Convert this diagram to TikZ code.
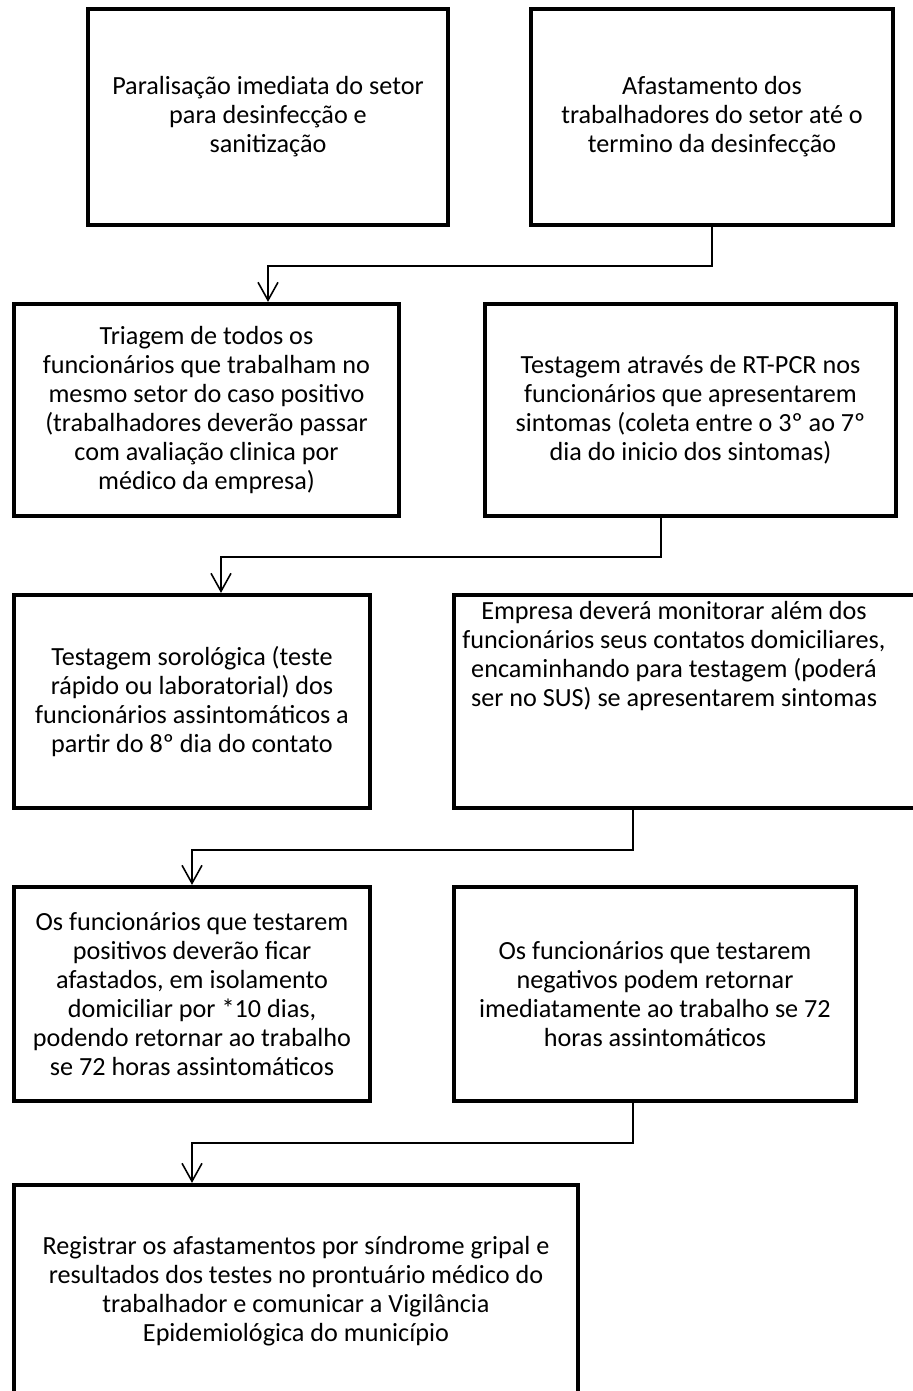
\documentclass[tikz,border=0pt]{standalone}
\usepackage{fontspec}
\setmainfont{Carlito}
\usetikzlibrary{arrows.meta}

\begin{document}
\begin{tikzpicture}[x=0.02cm,y=-0.02cm]
\tikzstyle{every node}+=[inner sep=0pt]
\tikzstyle{etapa}=[draw=black,line width=2.4pt,align=center,font=\fontsize{14.9}{16.5}\selectfont]
\tikzstyle{texto}=[align=center,font=\fontsize{14.9}{16.5}\selectfont]
\tikzstyle{fluxo}=[line width=0.9pt,-{Straight Barb[length=0.36cm,width=0.4cm]}]
\useasboundingbox (0,0) rectangle (912,1391);
\node [etapa,minimum width=7.2cm,minimum height=4.32cm] (b1) at (268,117) {Paralisação imediata do setor\\para desinfecção e\\sanitização};
\node [etapa,minimum width=7.24cm,minimum height=4.32cm] (b2) at (712,117) {Afastamento dos\\trabalhadores do setor até o\\termino da desinfecção};
\node [etapa,minimum width=7.7cm,minimum height=4.24cm] (b3) at (206.5,410) {Triagem de todos os\\funcionários que trabalham no\\mesmo setor do caso positivo\\(trabalhadores deverão passar\\com avaliação clinica por\\médico da empresa)};
\node [etapa,minimum width=8.22cm,minimum height=4.24cm] (b4) at (690.5,410) {Testagem através de RT-PCR nos\\funcionários que apresentarem\\sintomas (coleta entre o 3º ao 7º\\dia do inicio dos sintomas)};
\node [etapa,minimum width=7.12cm,minimum height=4.26cm] (b5) at (192,701.5) {Testagem sorológica (teste\\rápido ou laboratorial) dos\\funcionários assintomáticos a\\partir do 8º dia do contato};
\node [etapa,minimum width=9.38cm,minimum height=4.26cm] (b6) at (688.5,701.5) {};
\node [texto] (t6) at (674,656) {Empresa deverá monitorar além dos\\funcionários seus contatos domiciliares,\\encaminhando para testagem (poderá\\ser no SUS) se apresentarem sintomas};
\node [etapa,minimum width=7.12cm,minimum height=4.28cm] (b7) at (192,994) {Os funcionários que testarem\\positivos deverão ficar\\afastados, em isolamento\\domiciliar por *10 dias,\\podendo retornar ao trabalho\\se 72 horas assintomáticos};
\node [etapa,minimum width=8.04cm,minimum height=4.28cm] (b8) at (655,994) {Os funcionários que testarem\\negativos podem retornar\\imediatamente ao trabalho se 72\\horas assintomáticos};
\node [etapa,minimum width=11.28cm,minimum height=4.26cm] (b9) at (296,1291.5) {Registrar os afastamentos por síndrome gripal e\\resultados dos testes no prontuário médico do\\trabalhador e comunicar a Vigilância\\Epidemiológica do município};
\coordinate (c1) at (712,266);
\coordinate (d1) at (268,266);
\draw [fluxo] (b2.south) -- (c1) -- (d1) -- (d1 |- b3.north);
\coordinate (c2) at (661,557);
\coordinate (d2) at (221,557);
\draw [fluxo] (c2 |- b4.south) -- (c2) -- (d2) -- (d2 |- b5.north);
\coordinate (c3) at (633,850);
\coordinate (d3) at (192,850);
\draw [fluxo] (c3 |- b6.south) -- (c3) -- (d3) -- (d3 |- b7.north);
\coordinate (c4) at (633,1143);
\coordinate (d4) at (192,1143);
\draw [fluxo] (c4 |- b8.south) -- (c4) -- (d4) -- (d4 |- b9.north);
\end{tikzpicture}
\end{document}
